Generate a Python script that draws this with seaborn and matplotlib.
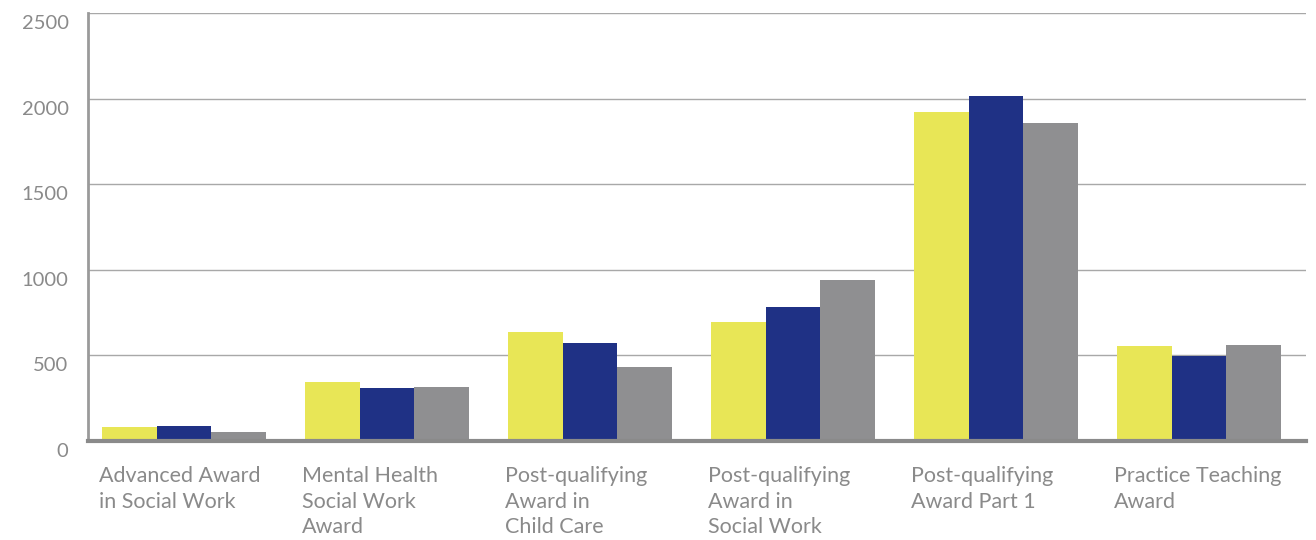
import pandas as pd
import matplotlib.pyplot as plt
import matplotlib.transforms as mtransforms
import seaborn as sns

# values
categories = [
    "Advanced Award\nin Social Work",
    "Mental Health\nSocial Work\nAward",
    "Post-qualifying\nAward in\nChild Care",
    "Post-qualifying\nAward in\nSocial Work",
    "Post-qualifying\nAward Part 1",
    "Practice Teaching\nAward",
]
series_names = ["Series 1", "Series 2", "Series 3"]
series_1 = [82, 345, 637, 696, 1924, 556]
series_2 = [88, 310, 573, 784, 2018, 499]
series_3 = [53, 316, 433, 941, 1860, 561]
y_ticks = [0, 500, 1000, 1500, 2000, 2500]

colors = ["#e8e656", "#1f3185", "#8f8f91"]
text_grey = "#8a8a8a"

rows = []
for name, vals in zip(series_names, [series_1, series_2, series_3]):
    for cat, v in zip(categories, vals):
        rows.append({"category": cat, "series": name, "value": v})
df = pd.DataFrame(rows)

sns.set_style("white")
plt.rcParams["font.family"] = ["Lato", "DejaVu Sans"]

fig = plt.figure(figsize=(13.16, 5.4), dpi=100)
ax = fig.add_axes([88 / 1316, 1 - 441 / 540, 1218 / 1316, 428 / 540])

sns.barplot(data=df, x="category", y="value", hue="series", palette=colors,
            width=0.81, saturation=1, linewidth=0, legend=False, ax=ax)

ax.set_ylim(0, 2500)
ax.set_xlim(-0.473, 5.527)
ax.set_yticks(y_ticks)
ax.set_yticklabels([str(t) for t in y_ticks], fontsize=14.5, color=text_grey)
ax.yaxis.grid(True, color="#a8a8a8", linewidth=1)
ax.set_axisbelow(True)
ax.tick_params(axis="both", length=0)
ax.tick_params(axis="y", pad=14)

# shift y labels down a bit like the reference
offset = mtransforms.ScaledTranslation(0, -9 / 100, fig.dpi_scale_trans)
for lab in ax.get_yticklabels():
    lab.set_transform(lab.get_transform() + offset)

# category labels left-aligned under each group
ax.set_xticks([i - 0.42 for i in range(len(categories))])
ax.set_xticklabels(categories, ha="left", va="top", fontsize=15.5,
                   color=text_grey, linespacing=1.35)
ax.tick_params(axis="x", pad=18)

ax.set_xlabel("")
ax.set_ylabel("")
for s in ["top", "right"]:
    ax.spines[s].set_visible(False)
ax.spines["left"].set_color("#9a9a9a")
ax.spines["left"].set_linewidth(2)
ax.spines["bottom"].set_color("#8a8a8a")
ax.spines["bottom"].set_linewidth(3)

fig.savefig("out.png", dpi=100)
